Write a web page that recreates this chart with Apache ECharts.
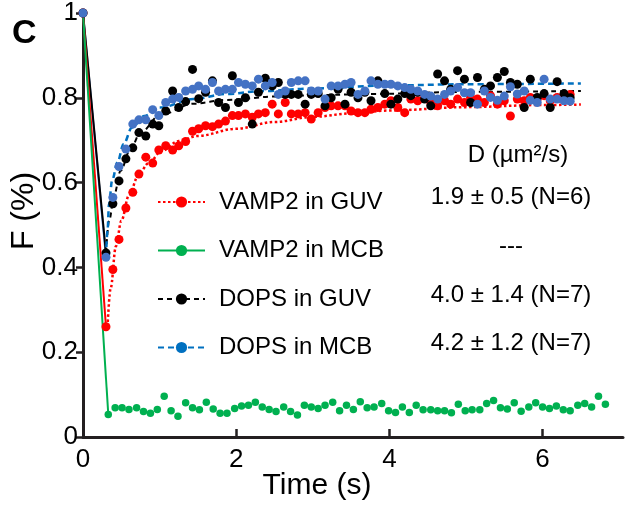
<!DOCTYPE html>
<html><head><meta charset="utf-8">
<script src="https://cdn.jsdelivr.net/npm/echarts@6/dist/echarts.min.js"></script>
<style>html,body{margin:0;padding:0;background:#fff}#c{width:625px;height:508px}</style>
</head><body><div id="c"></div>
<script>
// ---------- data ----------
const seriesNames = ['VAMP2 in GUV', 'VAMP2 in MCB', 'DOPS in GUV', 'DOPS in MCB'];
const dHeader = 'D (µm²/s)';
const dLabels = ['1.9 ± 0.5 (N=6)', '---', '4.0 ± 1.4 (N=7)', '4.2 ± 1.2 (N=7)'];
const panelLabel = 'C';
const xTitle = 'Time (s)';
const yTitle = 'F (%)';

// pre-bleach point (t = 0) shared by all series
const preT = 0;
const preV = 1;

// frame times after bleaching (red / black / blue series)
const timeA = [
  0.30, 0.39, 0.47, 0.56, 0.65, 0.73, 0.82, 0.91, 0.99, 1.08,
  1.17, 1.25, 1.34, 1.43, 1.51, 1.60, 1.69, 1.77, 1.86, 1.95,
  2.03, 2.12, 2.21, 2.29, 2.38, 2.47, 2.55, 2.64, 2.72, 2.81,
  2.90, 2.98, 3.07, 3.16, 3.24, 3.33, 3.42, 3.50, 3.59, 3.68,
  3.76, 3.85, 3.94, 4.02, 4.11, 4.20, 4.28, 4.37, 4.46, 4.54,
  4.63, 4.72, 4.80, 4.89, 4.98, 5.06, 5.15, 5.24, 5.32, 5.41,
  5.50, 5.58, 5.67, 5.76, 5.84, 5.93, 6.02, 6.10, 6.19, 6.28,
  6.36
];
// frame times after bleaching (green series)
const timeB = [
  0.33, 0.42, 0.51, 0.60, 0.70, 0.79, 0.88, 0.97, 1.06, 1.15,
  1.24, 1.34, 1.43, 1.52, 1.61, 1.70, 1.79, 1.88, 1.98, 2.07,
  2.16, 2.25, 2.34, 2.43, 2.52, 2.62, 2.71, 2.80, 2.89, 2.98,
  3.07, 3.16, 3.26, 3.35, 3.44, 3.53, 3.62, 3.71, 3.80, 3.90,
  3.99, 4.08, 4.17, 4.26, 4.35, 4.44, 4.54, 4.63, 4.72, 4.81,
  4.90, 4.99, 5.08, 5.18, 5.27, 5.36, 5.45, 5.54, 5.63, 5.72,
  5.82, 5.91, 6.00, 6.09, 6.18, 6.27, 6.36, 6.46, 6.55, 6.64,
  6.73, 6.82
];

const vampGUV = [
  0.260, 0.395, 0.466, 0.540, 0.577, 0.620, 0.660, 0.646, 0.677, 0.687,
  0.677, 0.687, 0.697, 0.721, 0.727, 0.734, 0.732, 0.738, 0.745, 0.758,
  0.758, 0.762, 0.754, 0.762, 0.765, 0.785, 0.762, 0.789, 0.762, 0.762,
  0.765, 0.750, 0.765, 0.777, 0.781, 0.781, 0.781, 0.769, 0.765, 0.765,
  0.773, 0.777, 0.785, 0.793, 0.777, 0.765, 0.797, 0.793, 0.801, 0.789,
  0.781, 0.793, 0.785, 0.797, 0.789, 0.801, 0.797, 0.789, 0.805, 0.785,
  0.793, 0.757, 0.797, 0.793, 0.801, 0.797, 0.805, 0.793, 0.801, 0.805,
  0.808
];
const vampMCB = [
  0.053, 0.069, 0.069, 0.065, 0.069, 0.060, 0.056, 0.065, 0.096, 0.062,
  0.049, 0.081, 0.069, 0.064, 0.082, 0.066, 0.056, 0.056, 0.067, 0.073,
  0.075, 0.082, 0.071, 0.065, 0.060, 0.071, 0.060, 0.052, 0.075, 0.071,
  0.067, 0.075, 0.082, 0.062, 0.075, 0.065, 0.083, 0.069, 0.071, 0.079,
  0.062, 0.058, 0.071, 0.058, 0.075, 0.064, 0.064, 0.062, 0.062, 0.057,
  0.077, 0.062, 0.064, 0.064, 0.079, 0.086, 0.069, 0.066, 0.081, 0.061,
  0.071, 0.081, 0.071, 0.067, 0.073, 0.064, 0.062, 0.075, 0.079, 0.071,
  0.096, 0.077
];
const dopsGUV = [
  0.434, 0.550, 0.604, 0.656, 0.682, 0.718, 0.710, 0.738, 0.734, 0.769,
  0.816, 0.777, 0.791, 0.867, 0.798, 0.813, 0.840, 0.789, 0.777, 0.852,
  0.789, 0.800, 0.738, 0.813, 0.846, 0.828, 0.836, 0.808, 0.808, 0.808,
  0.785, 0.808, 0.810, 0.781, 0.800, 0.820, 0.785, 0.813, 0.800, 0.813,
  0.793, 0.840, 0.810, 0.785, 0.797, 0.810, 0.805, 0.813, 0.797, 0.781,
  0.856, 0.840, 0.820, 0.864, 0.844, 0.789, 0.848, 0.820, 0.828, 0.848,
  0.862, 0.836, 0.832, 0.777, 0.844, 0.801, 0.810, 0.777, 0.838, 0.810,
  0.800
];
const dopsMCB = [
  0.424, 0.565, 0.638, 0.679, 0.738, 0.748, 0.748, 0.772, 0.758, 0.789,
  0.797, 0.801, 0.816, 0.820, 0.828, 0.820, 0.836, 0.816, 0.820, 0.820,
  0.836, 0.832, 0.828, 0.844, 0.828, 0.836, 0.808, 0.816, 0.836, 0.840,
  0.840, 0.816, 0.816, 0.797, 0.828, 0.828, 0.832, 0.836, 0.808, 0.816,
  0.840, 0.832, 0.832, 0.832, 0.828, 0.824, 0.820, 0.816, 0.808, 0.804,
  0.797, 0.808, 0.816, 0.824, 0.812, 0.812, 0.785, 0.816, 0.801, 0.794,
  0.804, 0.826, 0.809, 0.816, 0.794, 0.789, 0.844, 0.797, 0.797, 0.793,
  0.792
];

// fitted recovery curves
const fitVampGUVT = [0.32, 0.36, 0.43, 0.50, 0.60, 0.72, 0.85, 1.03, 1.25, 1.50, 2.00, 2.50, 3.00, 3.50, 4.00, 5.00, 6.00, 6.50];
const fitVampGUVV = [0.26, 0.35, 0.45, 0.51, 0.57, 0.615, 0.645, 0.675, 0.698, 0.710, 0.727, 0.743, 0.755, 0.763, 0.770, 0.778, 0.783, 0.784];
const fitDopsGUVT = [0.30, 0.34, 0.41, 0.49, 0.62, 0.75, 1.01, 1.44, 1.87, 2.52, 3.00, 3.77, 5.00, 6.50];
const fitDopsGUVV = [0.434, 0.51, 0.573, 0.628, 0.679, 0.718, 0.760, 0.786, 0.795, 0.803, 0.806, 0.809, 0.814, 0.816];
const fitDopsMCBT = [0.30, 0.32, 0.34, 0.38, 0.45, 0.53, 0.64, 0.80, 1.00, 1.44, 1.87, 2.35, 3.00, 4.00, 5.00, 6.50];
const fitDopsMCBV = [0.424, 0.487, 0.55, 0.605, 0.648, 0.691, 0.73, 0.757, 0.777, 0.797, 0.809, 0.816, 0.822, 0.829, 0.832, 0.834];

// ---------- build ----------
const FONT = 'Liberation Sans, Arial, Helvetica, sans-serif';
const RED = '#ff0000', GREEN = '#00b050', BLACK = '#000000', BLUE = '#4472c4', BLUEFIT = '#0070c0';
const zip = (t, v) => t.slice(0, Math.min(t.length, v.length)).map((x, i) => [x, v[i]]);
const withPre = (t, v) => [[preT, preV]].concat(zip(t, v));

function scatter(name, t, v, color, size, z) {
  return { name: name, type: 'scatter', data: withPre(t, v), symbol: 'circle', symbolSize: size,
    itemStyle: { color: color, opacity: 1 }, z: z, clip: false, silent: true };
}
function bleachLine(name, t, v, color, z) {
  return { name: name, type: 'line', data: [[preT, preV], [t[0], v[0]]], showSymbol: false,
    symbol: 'circle', symbolSize: 11, itemStyle: { color: color },
    lineStyle: { color: color, width: 2 }, z: z, clip: false, silent: true, animation: false };
}
function fitLine(name, t, v, color, dash, width, z) {
  return { name: name, type: 'line', data: zip(t, v), smooth: 0.35, smoothMonotone: 'x', showSymbol: false,
    symbol: 'circle', symbolSize: 11, itemStyle: { color: color },
    lineStyle: { color: color, width: width, type: dash }, z: z, clip: false, silent: true, animation: false };
}

const series = [
  bleachLine('b-blue', timeA, dopsMCB, BLUE, 2),
  bleachLine('b-black', timeA, dopsGUV, BLACK, 2),
  bleachLine('b-red', timeA, vampGUV, RED, 2),
  bleachLine(seriesNames[1], timeB, vampMCB, GREEN, 2),
  fitLine(seriesNames[0], fitVampGUVT, fitVampGUVV, RED, [2.5, 2.5], 2.5, 3),
  fitLine(seriesNames[2], fitDopsGUVT, fitDopsGUVV, BLACK, [5, 4], 2, 3),
  fitLine(seriesNames[3], fitDopsMCBT, fitDopsMCBV, BLUEFIT, [6, 4], 2.5, 3),
  scatter('p-green', timeB, vampMCB, GREEN, 7.5, 4),
  scatter('p-red', timeA, vampGUV, RED, 9, 5),
  scatter('p-black', timeA, dopsGUV, BLACK, 9, 6),
  scatter('p-blue', timeA, dopsMCB, BLUE, 9, 7)
];

const rowY = [197, 246, 295, 343];
const graphics = [
  { type: 'text', left: 12, top: 17, style: { text: panelLabel, font: 'bold 34px ' + FONT, fill: '#000' } },
  { type: 'text', x: 317, y: 486, style: { text: xTitle, font: '30px ' + FONT, fill: '#000', align: 'center', verticalAlign: 'middle' } },
  { type: 'text', x: 24, y: 211, rotation: Math.PI / 2, style: { text: yTitle, font: '32px ' + FONT, fill: '#000', align: 'center', verticalAlign: 'middle' } },
  { type: 'text', x: 518, y: 155, style: { text: dHeader, font: '24px ' + FONT, fill: '#000', align: 'center', verticalAlign: 'middle' } }
];
dLabels.forEach((s, i) => graphics.push({ type: 'text', x: 511, y: rowY[i], style: { text: s, font: '24px ' + FONT, fill: '#000', align: 'center', verticalAlign: 'middle' } }));

const option = {
  animation: false,
  backgroundColor: '#ffffff',
  grid: { left: 83, right: 2, top: 12, bottom: 71, containLabel: false },
  xAxis: {
    type: 'value', min: 0, max: 7.05, interval: 2,
    axisLine: { show: true, onZero: false, lineStyle: { color: '#231f20', width: 3 } },
    axisTick: { show: true, inside: true, length: 8, lineStyle: { color: '#231f20', width: 2.5 } },
    axisLabel: { fontSize: 26, fontFamily: FONT, color: '#000', margin: 10, showMaxLabel: false },
    splitLine: { show: false }
  },
  yAxis: {
    type: 'value', min: 0, max: 1, interval: 0.2,
    axisLine: { show: true, onZero: false, lineStyle: { color: '#231f20', width: 3 } },
    axisTick: { show: true, inside: false, length: 7, lineStyle: { color: '#231f20', width: 2.5 } },
    axisLabel: { fontSize: 26, fontFamily: FONT, color: '#000', margin: 5 },
    splitLine: { show: false }
  },
  legend: {
    data: seriesNames, orient: 'vertical', left: 152, top: 185,
    itemWidth: 47, itemHeight: 14, itemGap: 24.5,
    textStyle: { fontSize: 24, fontFamily: FONT, color: '#000', padding: [0, 0, 0, 9] },
    selectedMode: false
  },
  graphic: graphics,
  series: series
};
const chart = echarts.init(document.getElementById('c'), null, { renderer: 'canvas' });
chart.setOption(option);
</script>
</body></html>
